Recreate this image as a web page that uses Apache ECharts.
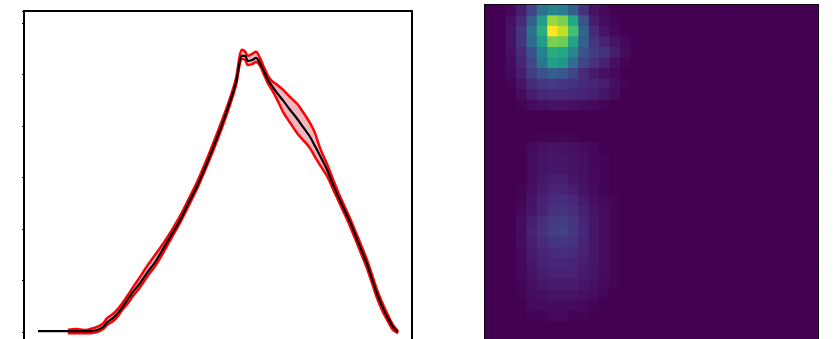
<!DOCTYPE html>
<html>
<head>
<meta charset="utf-8">
<script src="https://cdn.jsdelivr.net/npm/echarts@6/dist/echarts.min.js"></script>
<style>
  html, body { margin: 0; padding: 0; background: #fff; }
  #chart { width: 836px; height: 339px; }
</style>
</head>
<body>
<div id="chart"></div>
<script>
// left panel: mean curve with upper / lower bounds
const xs = [3.6, 11.3, 13.4, 15.5, 17.0, 18.8, 20.4, 21.4, 22.9, 24.2, 25.5, 26.8, 28.1, 29.9, 31.7, 33.8, 35.8, 38.1, 40.2, 42.3, 44.6, 46.6, 48.7, 51.0, 53.1, 54.6, 56.2, 57.0, 57.7, 58.8, 59.8, 60.8, 61.9, 62.9, 63.9, 65.2, 66.8, 68.6, 70.4, 71.9, 73.7, 75.0, 76.3, 78.1, 79.6, 81.4, 84.0, 86.1, 88.4, 91.0, 92.5, 93.8, 95.1, 96.4]
const meanVals = [0.2, 0.2, 0.2, 0.2, 0.2, 0.4, 1.0, 1.9, 2.7, 3.7, 5.0, 6.4, 7.8, 9.5, 11.5, 13.6, 16.1, 19.0, 21.7, 24.9, 28.3, 31.8, 35.7, 40.2, 44.7, 48.3, 53.6, 53.6, 52.6, 52.8, 53.2, 52.2, 50.5, 48.9, 47.8, 46.4, 44.9, 43.1, 41.4, 39.8, 37.9, 36.1, 34.2, 31.5, 28.7, 25.6, 21.4, 17.5, 13.2, 7.4, 4.7, 2.7, 1.0, 0]
const upperVals = [null, 0.4, 0.6, 0.4, 0.6, 1.0, 1.7, 2.7, 3.5, 4.5, 5.8, 7.2, 8.7, 10.7, 12.8, 15.0, 17.1, 19.8, 22.5, 25.6, 29.1, 32.6, 36.5, 41.0, 45.4, 49.1, 54.8, 54.4, 53.6, 54.0, 54.4, 53.2, 51.3, 49.7, 48.7, 48.0, 47.0, 45.6, 44.3, 42.7, 40.6, 38.6, 35.7, 32.6, 29.7, 26.4, 22.1, 18.3, 14.0, 8.2, 5.4, 3.3, 1.4, 0.2]
const lowerVals = [null, -0.2, -0.2, -0.2, -0.2, 0, 0.6, 1.4, 2.1, 3.1, 4.5, 5.6, 7.0, 8.7, 10.7, 12.8, 15.3, 18.4, 21.2, 24.3, 27.8, 31.3, 35.1, 39.6, 44.1, 47.8, 53.0, 52.8, 51.8, 52.0, 52.4, 51.7, 49.9, 48.2, 47.0, 45.2, 42.7, 40.6, 38.6, 37.3, 35.7, 34.0, 32.4, 30.3, 27.8, 24.9, 20.6, 16.7, 12.4, 6.6, 3.9, 2.1, 0.4, -0.2]

// right panel: 32 x 32 density map, row 0 at the top
const density = [
  [0, 0, 2, 8, 20, 38, 45, 42, 30, 14, 5, 2, 0, 0, 0, 0, 0, 0, 0, 0, 0, 0, 0, 0, 0, 0, 0, 0, 0, 0, 0, 0],
  [0, 0, 4, 12, 30, 55, 85, 80, 60, 25, 8, 3, 1, 0, 0, 0, 0, 0, 0, 0, 0, 0, 0, 0, 0, 0, 0, 0, 0, 0, 0, 0],
  [0, 0, 5, 15, 38, 62, 100, 90, 70, 32, 12, 5, 2, 0, 0, 0, 0, 0, 0, 0, 0, 0, 0, 0, 0, 0, 0, 0, 0, 0, 0, 0],
  [0, 0, 5, 15, 35, 55, 80, 78, 58, 30, 15, 10, 5, 2, 0, 0, 0, 0, 0, 0, 0, 0, 0, 0, 0, 0, 0, 0, 0, 0, 0, 0],
  [0, 0, 4, 12, 26, 44, 62, 60, 45, 25, 18, 14, 8, 3, 0, 0, 0, 0, 0, 0, 0, 0, 0, 0, 0, 0, 0, 0, 0, 0, 0, 0],
  [0, 0, 3, 10, 22, 40, 56, 52, 35, 20, 14, 9, 4, 1, 0, 0, 0, 0, 0, 0, 0, 0, 0, 0, 0, 0, 0, 0, 0, 0, 0, 0],
  [0, 0, 2, 8, 18, 26, 30, 28, 20, 12, 7, 4, 2, 0, 0, 0, 0, 0, 0, 0, 0, 0, 0, 0, 0, 0, 0, 0, 0, 0, 0, 0],
  [0, 0, 1, 5, 12, 16, 17, 16, 14, 12, 10, 8, 4, 1, 0, 0, 0, 0, 0, 0, 0, 0, 0, 0, 0, 0, 0, 0, 0, 0, 0, 0],
  [0, 0, 0, 3, 8, 11, 12, 12, 11, 10, 8, 6, 3, 0, 0, 0, 0, 0, 0, 0, 0, 0, 0, 0, 0, 0, 0, 0, 0, 0, 0, 0],
  [0, 0, 0, 1, 3, 4, 5, 5, 4, 3, 2, 1, 0, 0, 0, 0, 0, 0, 0, 0, 0, 0, 0, 0, 0, 0, 0, 0, 0, 0, 0, 0],
  [0, 0, 0, 0, 0, 0, 0, 0, 0, 0, 0, 0, 0, 0, 0, 0, 0, 0, 0, 0, 0, 0, 0, 0, 0, 0, 0, 0, 0, 0, 0, 0],
  [0, 0, 0, 0, 0, 0, 0, 0, 0, 0, 0, 0, 0, 0, 0, 0, 0, 0, 0, 0, 0, 0, 0, 0, 0, 0, 0, 0, 0, 0, 0, 0],
  [0, 0, 0, 0, 0, 1, 1, 1, 1, 0, 0, 0, 0, 0, 0, 0, 0, 0, 0, 0, 0, 0, 0, 0, 0, 0, 0, 0, 0, 0, 0, 0],
  [0, 0, 0, 0, 2, 4, 5, 5, 4, 3, 2, 0, 0, 0, 0, 0, 0, 0, 0, 0, 0, 0, 0, 0, 0, 0, 0, 0, 0, 0, 0, 0],
  [0, 0, 0, 0, 3, 5, 6, 6, 5, 4, 2, 1, 0, 0, 0, 0, 0, 0, 0, 0, 0, 0, 0, 0, 0, 0, 0, 0, 0, 0, 0, 0],
  [0, 0, 0, 0, 3, 5, 6, 6, 5, 4, 2, 1, 0, 0, 0, 0, 0, 0, 0, 0, 0, 0, 0, 0, 0, 0, 0, 0, 0, 0, 0, 0],
  [0, 0, 0, 0, 3, 6, 8, 8, 6, 4, 2, 1, 0, 0, 0, 0, 0, 0, 0, 0, 0, 0, 0, 0, 0, 0, 0, 0, 0, 0, 0, 0],
  [0, 0, 0, 1, 4, 7, 10, 10, 8, 5, 3, 1, 0, 0, 0, 0, 0, 0, 0, 0, 0, 0, 0, 0, 0, 0, 0, 0, 0, 0, 0, 0],
  [0, 0, 0, 1, 5, 9, 12, 13, 11, 7, 4, 2, 1, 0, 0, 0, 0, 0, 0, 0, 0, 0, 0, 0, 0, 0, 0, 0, 0, 0, 0, 0],
  [0, 0, 0, 2, 6, 10, 14, 15, 13, 9, 5, 3, 1, 0, 0, 0, 0, 0, 0, 0, 0, 0, 0, 0, 0, 0, 0, 0, 0, 0, 0, 0],
  [0, 0, 0, 3, 8, 13, 17, 18, 15, 10, 6, 3, 1, 0, 0, 0, 0, 0, 0, 0, 0, 0, 0, 0, 0, 0, 0, 0, 0, 0, 0, 0],
  [0, 0, 0, 3, 9, 14, 18, 19, 16, 11, 6, 3, 1, 0, 0, 0, 0, 0, 0, 0, 0, 0, 0, 0, 0, 0, 0, 0, 0, 0, 0, 0],
  [0, 0, 0, 3, 8, 12, 15, 16, 14, 10, 6, 3, 1, 0, 0, 0, 0, 0, 0, 0, 0, 0, 0, 0, 0, 0, 0, 0, 0, 0, 0, 0],
  [0, 0, 0, 2, 7, 10, 12, 13, 12, 9, 6, 3, 1, 0, 0, 0, 0, 0, 0, 0, 0, 0, 0, 0, 0, 0, 0, 0, 0, 0, 0, 0],
  [0, 0, 0, 2, 6, 9, 10, 11, 10, 8, 6, 3, 1, 0, 0, 0, 0, 0, 0, 0, 0, 0, 0, 0, 0, 0, 0, 0, 0, 0, 0, 0],
  [0, 0, 0, 2, 5, 8, 9, 9, 9, 7, 5, 3, 1, 0, 0, 0, 0, 0, 0, 0, 0, 0, 0, 0, 0, 0, 0, 0, 0, 0, 0, 0],
  [0, 0, 0, 1, 4, 6, 7, 7, 7, 6, 4, 2, 1, 0, 0, 0, 0, 0, 0, 0, 0, 0, 0, 0, 0, 0, 0, 0, 0, 0, 0, 0],
  [0, 0, 0, 1, 3, 4, 5, 5, 5, 4, 3, 1, 0, 0, 0, 0, 0, 0, 0, 0, 0, 0, 0, 0, 0, 0, 0, 0, 0, 0, 0, 0],
  [0, 0, 0, 0, 2, 3, 3, 3, 3, 2, 1, 0, 0, 0, 0, 0, 0, 0, 0, 0, 0, 0, 0, 0, 0, 0, 0, 0, 0, 0, 0, 0],
  [0, 0, 0, 0, 1, 1, 2, 2, 1, 1, 0, 0, 0, 0, 0, 0, 0, 0, 0, 0, 0, 0, 0, 0, 0, 0, 0, 0, 0, 0, 0, 0],
  [0, 0, 0, 0, 0, 0, 0, 0, 0, 0, 0, 0, 0, 0, 0, 0, 0, 0, 0, 0, 0, 0, 0, 0, 0, 0, 0, 0, 0, 0, 0, 0],
  [0, 0, 0, 0, 0, 0, 0, 0, 0, 0, 0, 0, 0, 0, 0, 0, 0, 0, 0, 0, 0, 0, 0, 0, 0, 0, 0, 0, 0, 0, 0, 0]
]

const viridis = ["#440154", "#482475", "#414487", "#355f8d", "#2a788e", "#21918c", "#22a884", "#44bf70", "#7ad151", "#bddf26", "#fde725"]

const pairs = (ys) => xs.map((x, i) => [x, ys[i]])
const cells = []
density.forEach((row, r) => row.forEach((v, c) => cells.push([c, r, v])))
const idx = density[0].map((_, i) => i)

const chart = echarts.init(document.getElementById("chart"))

const hidden = { axisLine: { show: false }, axisTick: { show: false }, axisLabel: { show: false }, splitLine: { show: false } }

const option = {
    animation: false,
    grid: [
        // both panels run past the bottom edge of the picture
        { left: 24, top: 11, width: 388, height: 334, outerBoundsMode: "none", show: true, borderColor: "#000", borderWidth: 2, backgroundColor: "#fff" },
        { left: 485, top: 5, width: 333, height: 338, outerBoundsMode: "none", show: true, borderColor: "#000", borderWidth: 2, backgroundColor: "#440154" },
    ],
    xAxis: [
        { type: "value", gridIndex: 0, min: 0, max: 100, ...hidden },
        { type: "category", gridIndex: 1, data: idx, ...hidden },
    ],
    yAxis: [
        {
            type: "value", gridIndex: 0, min: -2.5, max: 62.3, splitNumber: 7, minInterval: 10, maxInterval: 10,
            axisLine: { show: false },
            axisTick: { show: true, length: 2, lineStyle: { color: "#000", width: 1 } },
            axisLabel: { show: false }, splitLine: { show: false },
        },
        { type: "category", gridIndex: 1, inverse: true, data: idx, ...hidden },
    ],
    visualMap: {
        show: false,
        seriesIndex: 4,
        min: 0,
        max: 100,
        inRange: { color: viridis },
    },
    series: [
        {
            // shaded band between the bounds
            type: "custom",
            xAxisIndex: 0,
            yAxisIndex: 0,
            data: [0],
            silent: true,
            z: 1,
            renderItem: (params, api) => {
                const top = []
                const bottom = []
                xs.forEach((x, i) => {
                    if (upperVals[i] == null) return
                    top.push(api.coord([x, upperVals[i]]))
                    bottom.push(api.coord([x, lowerVals[i]]))
                })
                return {
                    type: "polygon",
                    shape: { points: top.concat(bottom.reverse()), smooth: 0.3 },
                    style: { fill: "#f2b6c0" },
                }
            },
        },
        {
            name: "upper",
            type: "line",
            xAxisIndex: 0,
            yAxisIndex: 0,
            data: pairs(upperVals),
            smooth: 0.3,
            showSymbol: false,
            z: 2,
            lineStyle: { color: "#ff0000", width: 2.5 },
        },
        {
            name: "lower",
            type: "line",
            xAxisIndex: 0,
            yAxisIndex: 0,
            data: pairs(lowerVals),
            smooth: 0.3,
            showSymbol: false,
            z: 2,
            lineStyle: { color: "#ff0000", width: 2.5 },
        },
        {
            name: "mean",
            type: "line",
            xAxisIndex: 0,
            yAxisIndex: 0,
            data: pairs(meanVals),
            smooth: 0.3,
            showSymbol: false,
            z: 3,
            lineStyle: { color: "#000", width: 2.2 },
        },
        {
            type: "heatmap",
            xAxisIndex: 1,
            yAxisIndex: 1,
            data: cells,
            itemStyle: { borderWidth: 0 },
        },
    ],
}

chart.setOption(option)
</script>
</body>
</html>
